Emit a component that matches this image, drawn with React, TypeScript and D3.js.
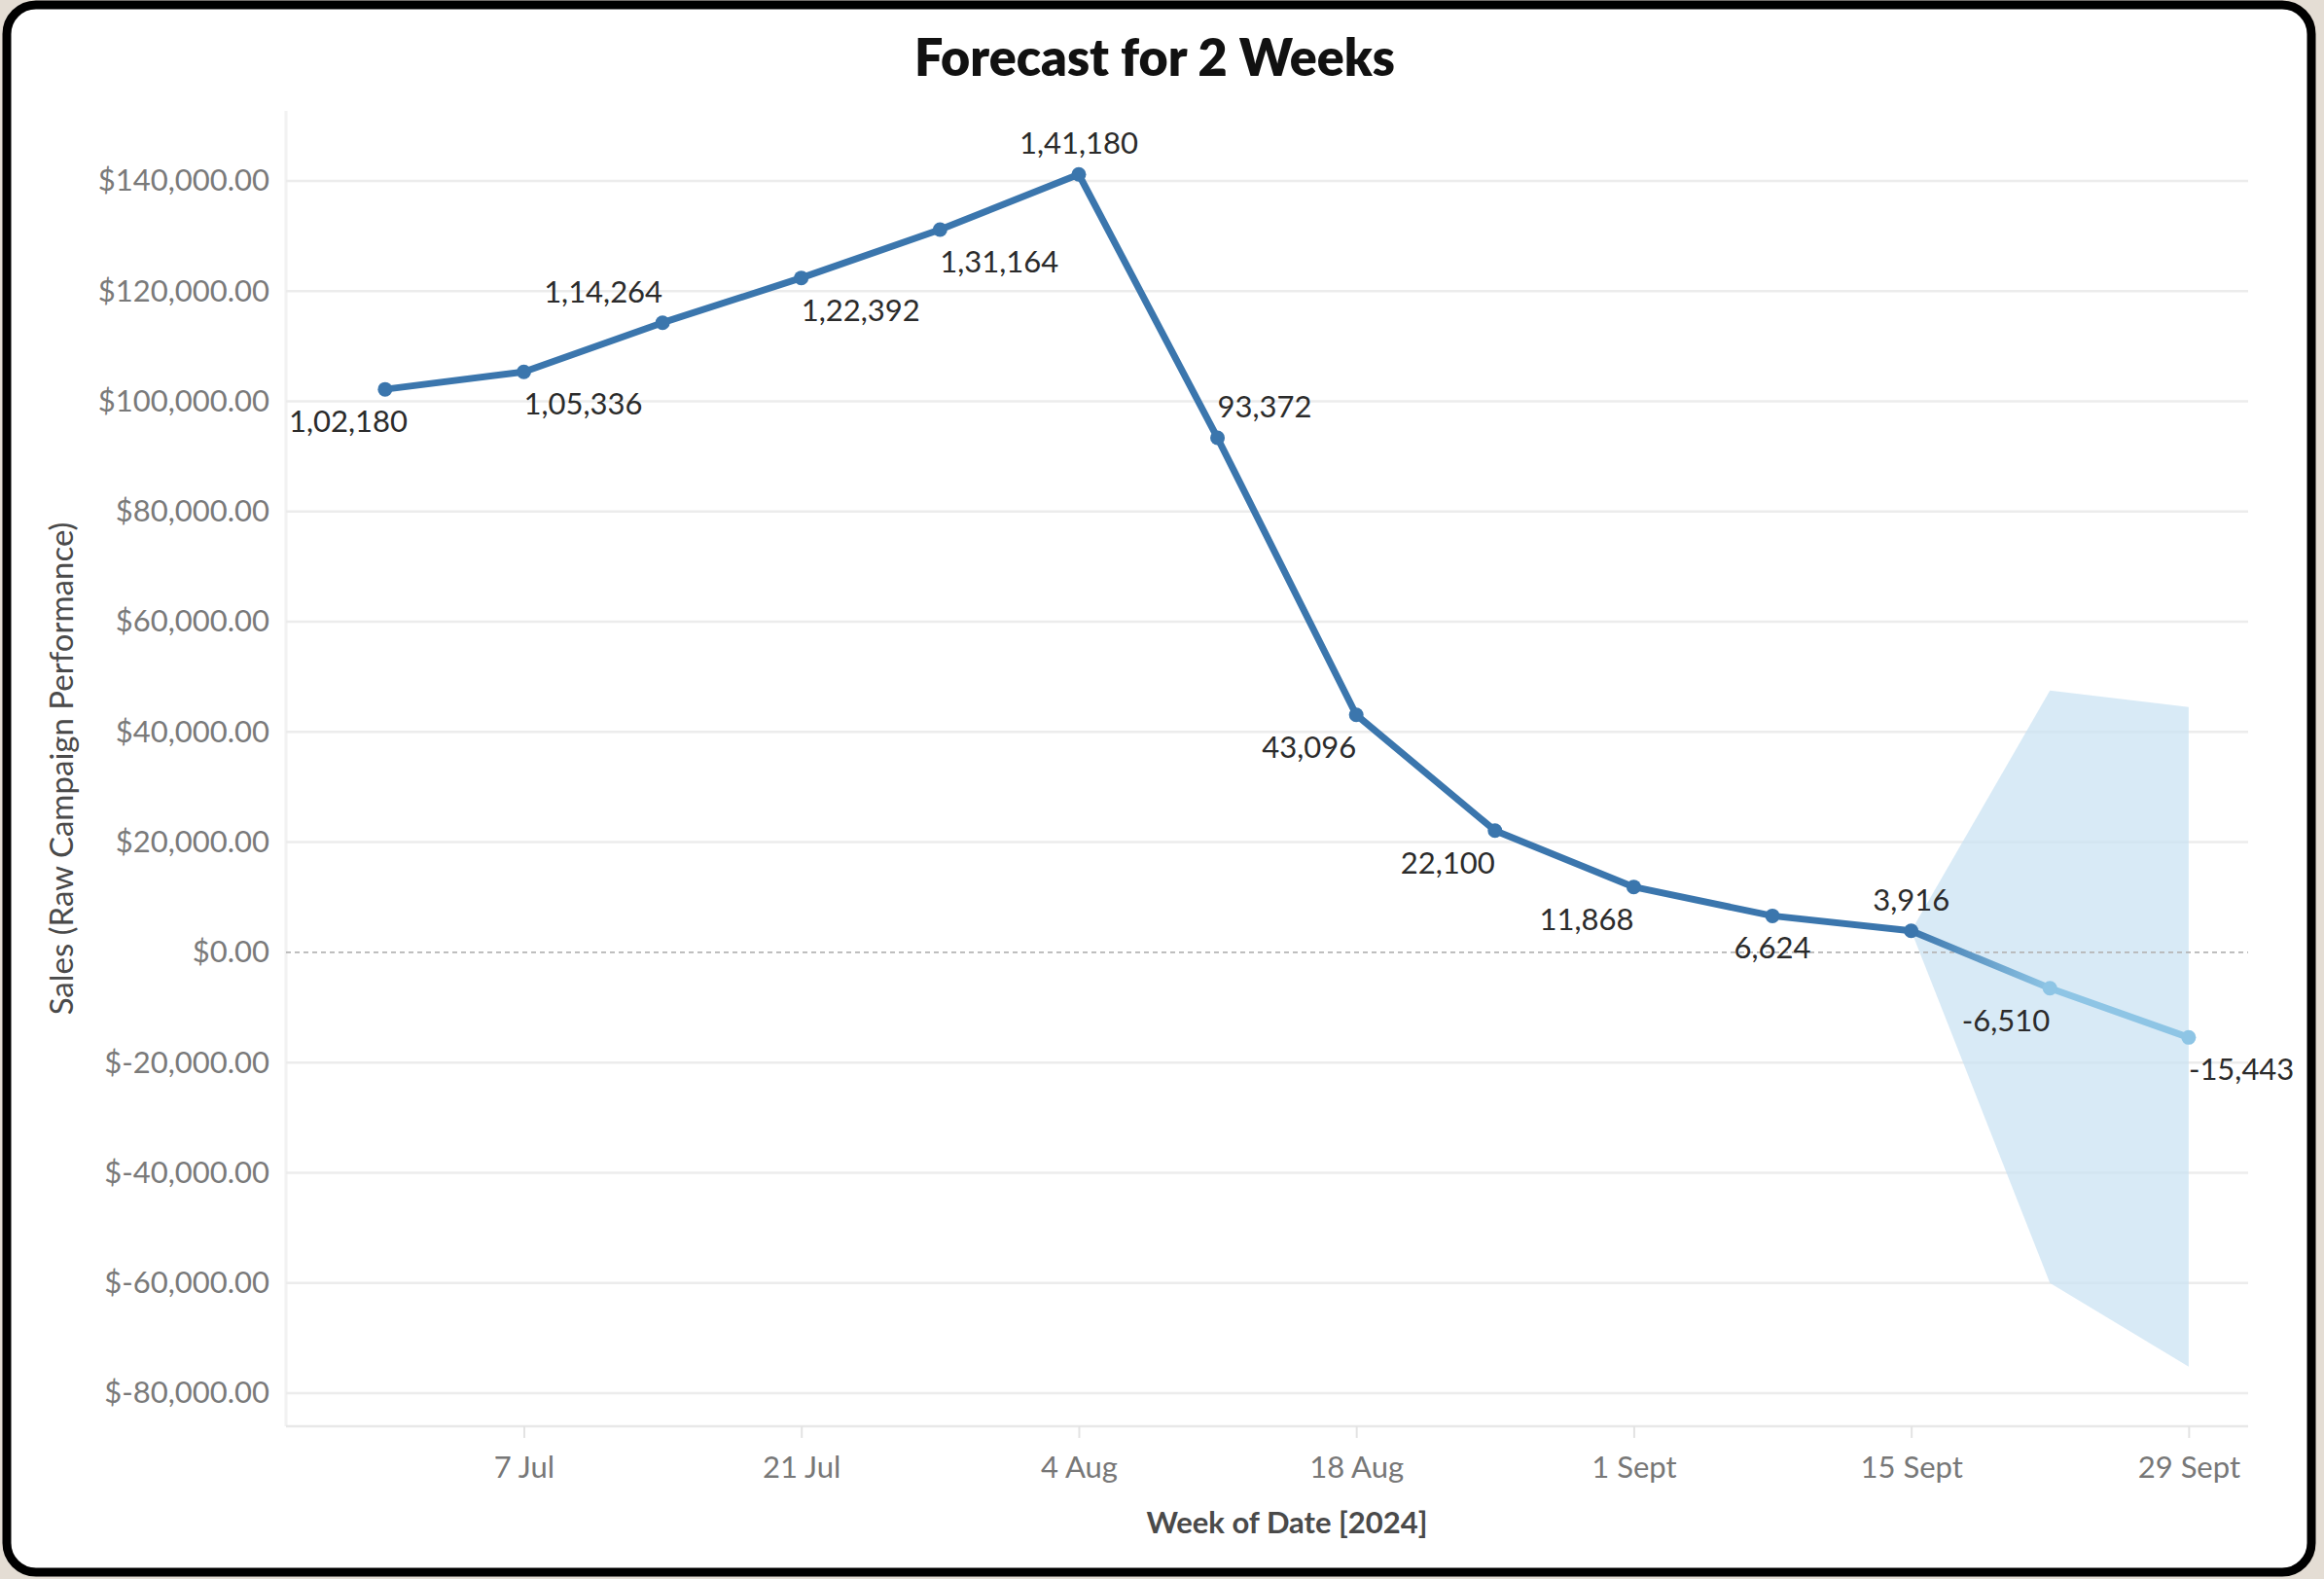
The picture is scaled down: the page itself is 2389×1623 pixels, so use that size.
import { useEffect, useRef } from 'react';
import * as d3 from 'd3';

const WIDTH = 2389;
const HEIGHT = 1623;

// Weekly actuals (week starting)
const actualWeeks = [
  '2024-06-30', '2024-07-07', '2024-07-14', '2024-07-21', '2024-07-28', '2024-08-04',
  '2024-08-11', '2024-08-18', '2024-08-25', '2024-09-01', '2024-09-08', '2024-09-15',
];
const actualSales = [102180, 105336, 114264, 122392, 131164, 141180, 93372, 43096, 22100, 11868, 6624, 3916];

// 2 week forecast, starting from the last actual point
const forecastWeeks = ['2024-09-15', '2024-09-22', '2024-09-29'];
const forecastSales = [3916, -6510, -15443];
const forecastUpper = [3916, 47500, 44500];
const forecastLower = [3916, -60000, -75200];

// where each mark label sits relative to its point (t/b = above/below, l/r = side)
const labelSides = ['bl', 'br', 'tl', 'br', 'br', 't', 'tr', 'bl', 'bl', 'bl', 'b', 't', 'bl', 'br'];

const xDomain = ['2024-06-25', '2024-10-02'];
const xTickDates = ['2024-07-07', '2024-07-21', '2024-08-04', '2024-08-18', '2024-09-01', '2024-09-15', '2024-09-29'];
const xTickLabels = ['7 Jul', '21 Jul', '4 Aug', '18 Aug', '1 Sept', '15 Sept', '29 Sept'];

const yDomain = [-86000, 152700];
const yTicks = [-80000, -60000, -40000, -20000, 0, 20000, 40000, 60000, 80000, 100000, 120000, 140000];

const parseDate = d3.timeParse('%Y-%m-%d');

// Indian digit grouping: 1,02,180
const formatIndian = (n: number) => {
  const sign = n < 0 ? '-' : '';
  const s = String(Math.abs(Math.round(n)));
  if (s.length <= 3) return sign + s;
  const last3 = s.slice(-3);
  let rest = s.slice(0, -3);
  const parts: string[] = [];
  while (rest.length > 2) {
    parts.unshift(rest.slice(-2));
    rest = rest.slice(0, -2);
  }
  if (rest) parts.unshift(rest);
  return sign + parts.join(',') + ',' + last3;
};

const fmtMoney = d3.format(',.2f');
const formatDollar = (v: number) => (v < 0 ? `$-${fmtMoney(-v)}` : `$${fmtMoney(v)}`);

export default function App() {
  const svgRef = useRef<SVGSVGElement | null>(null);

  useEffect(() => {
    document.body.style.margin = '0';
    if (!svgRef.current) return;

    const svg = d3.select(svgRef.current);
    svg.selectAll('*').remove();

    const plot = { left: 294, right: 2311, top: 114, bottom: 1466 };
    const font = 'Lato, "Open Sans", sans-serif';

    const xScale = d3.scaleTime()
      .domain(xDomain.map(d => parseDate(d) as Date))
      .range([plot.left, plot.right]);

    const yScale = d3.scaleLinear()
      .domain(yDomain)
      .range([plot.bottom, plot.top]);

    // page background + card
    svg.append('rect').attr('width', WIDTH).attr('height', HEIGHT).attr('fill', '#e4ddd4');
    svg.append('rect')
      .attr('x', 7).attr('y', 5)
      .attr('width', 2369).attr('height', 1611)
      .attr('rx', 30).attr('ry', 30)
      .attr('fill', '#ffffff')
      .attr('stroke', '#000000')
      .attr('stroke-width', 9);

    // Title
    svg.append('text')
      .attr('x', 1187)
      .attr('y', 78)
      .attr('text-anchor', 'middle')
      .attr('font-family', font)
      .attr('font-weight', 800)
      .attr('font-size', 52)
      .attr('fill', '#111')
      .text('Forecast for 2 Weeks');

    // plot frame (faint)
    svg.append('line')
      .attr('x1', plot.left).attr('x2', plot.left)
      .attr('y1', plot.top).attr('y2', plot.bottom)
      .attr('stroke', '#f2f2f2').attr('stroke-width', 3);

    // Gridlines
    svg.append('g')
      .selectAll('line')
      .data(yTicks.filter(d => d !== 0))
      .join('line')
      .attr('x1', plot.left).attr('x2', plot.right)
      .attr('y1', d => yScale(d)).attr('y2', d => yScale(d))
      .attr('stroke', '#ececec')
      .attr('stroke-width', 2.5);

    // bottom axis line
    svg.append('line')
      .attr('x1', plot.left).attr('x2', plot.right)
      .attr('y1', plot.bottom).attr('y2', plot.bottom)
      .attr('stroke', '#e8e8e8').attr('stroke-width', 2.5);

    // Forecast band
    const bandData = forecastWeeks.map((w, i) => ({
      date: parseDate(w) as Date,
      lo: forecastLower[i],
      hi: forecastUpper[i],
    }));
    const band = d3.area<any>()
      .x(d => xScale(d.date))
      .y0(d => yScale(d.lo))
      .y1(d => yScale(d.hi));
    svg.append('path')
      .datum(bandData)
      .attr('fill', '#c9e2f2')
      .attr('fill-opacity', 0.72)
      .attr('d', band);

    // zero line
    svg.append('line')
      .attr('x1', plot.left).attr('x2', plot.right)
      .attr('y1', yScale(0)).attr('y2', yScale(0))
      .attr('stroke', '#b5b5b5')
      .attr('stroke-width', 1.8)
      .attr('stroke-dasharray', '5,4');

    // Y axis
    const yAxis = d3.axisLeft(yScale)
      .tickValues(yTicks)
      .tickSize(0)
      .tickPadding(17)
      .tickFormat(d => formatDollar(d as number));
    const gy = svg.append('g')
      .attr('transform', `translate(${plot.left},0)`)
      .call(yAxis);
    gy.select('.domain').remove();
    gy.selectAll('text')
      .attr('font-family', font)
      .attr('font-size', 31)
      .attr('fill', '#7a7a7a');

    // X axis
    const xAxis = d3.axisBottom(xScale)
      .tickValues(xTickDates.map(d => parseDate(d) as Date))
      .tickSize(12)
      .tickPadding(19)
      .tickFormat((d, i) => xTickLabels[i]);
    const gx = svg.append('g')
      .attr('transform', `translate(0,${plot.bottom})`)
      .call(xAxis);
    gx.select('.domain').remove();
    gx.selectAll('line').attr('stroke', '#e3e3e3').attr('stroke-width', 2);
    gx.selectAll('text')
      .attr('font-family', font)
      .attr('font-size', 31)
      .attr('fill', '#777');

    // Axis titles
    svg.append('text')
      .attr('x', 1323)
      .attr('y', 1576)
      .attr('text-anchor', 'middle')
      .attr('font-family', font)
      .attr('font-weight', 700)
      .attr('font-size', 31)
      .attr('fill', '#4a4a4a')
      .text('Week of Date [2024]');

    svg.append('text')
      .attr('transform', `translate(75,${(plot.top + plot.bottom) / 2}) rotate(-90)`)
      .attr('text-anchor', 'middle')
      .attr('font-family', font)
      .attr('font-size', 33)
      .attr('fill', '#4a4a4a')
      .text('Sales (Raw Campaign Performance)');

    // Lines
    const dark = '#3b76ad';
    const light = '#8ec5e5';

    const actual = actualWeeks.map((w, i) => ({ date: parseDate(w) as Date, value: actualSales[i] }));
    const forecast = forecastWeeks.map((w, i) => ({ date: parseDate(w) as Date, value: forecastSales[i] }));

    const line = d3.line<any>()
      .x(d => xScale(d.date))
      .y(d => yScale(d.value));

    const defs = svg.append('defs');
    const grad = defs.append('linearGradient')
      .attr('id', 'fc-grad')
      .attr('gradientUnits', 'userSpaceOnUse')
      .attr('x1', xScale(forecast[0].date)).attr('y1', 0)
      .attr('x2', xScale(forecast[1].date)).attr('y2', 0);
    grad.append('stop').attr('offset', '0%').attr('stop-color', dark);
    grad.append('stop').attr('offset', '100%').attr('stop-color', light);

    svg.append('path')
      .datum(forecast)
      .attr('fill', 'none')
      .attr('stroke', 'url(#fc-grad)')
      .attr('stroke-width', 7)
      .attr('stroke-linejoin', 'round')
      .attr('d', line);

    svg.append('path')
      .datum(actual)
      .attr('fill', 'none')
      .attr('stroke', dark)
      .attr('stroke-width', 7)
      .attr('stroke-linejoin', 'round')
      .attr('d', line);

    const points = [
      ...actual.map(d => ({ ...d, fc: false })),
      ...forecast.slice(1).map(d => ({ ...d, fc: true })),
    ];

    svg.append('g')
      .selectAll('circle')
      .data(points)
      .join('circle')
      .attr('cx', d => xScale(d.date))
      .attr('cy', d => yScale(d.value))
      .attr('r', 7.5)
      .attr('fill', d => (d.fc ? light : dark));

    // Mark labels
    const labels = svg.append('g')
      .attr('font-family', font)
      .attr('font-size', 31)
      .attr('fill', '#2b2b2b');

    points.forEach((p, i) => {
      const side = labelSides[i];
      const anchor = side.includes('l') ? 'end' : side.includes('r') ? 'start' : 'middle';
      const dy = side.startsWith('t') ? -33 : 32;
      const t = labels.append('text')
        .attr('x', xScale(p.date))
        .attr('y', yScale(p.value) + dy)
        .attr('dominant-baseline', 'central')
        .attr('text-anchor', anchor)
        .text(formatIndian(p.value));
      // keep labels inside the plot on the left side
      const node = t.node() as SVGTextElement;
      const bb = node.getBBox();
      if (bb.x < plot.left + 3) {
        t.attr('x', +t.attr('x') + (plot.left + 3 - bb.x));
      }
    });
  }, []);

  return (
    <svg
      ref={svgRef}
      width={WIDTH}
      height={HEIGHT}
      style={{ display: 'block', position: 'absolute', left: 0, top: 0 }}
    />
  );
}
